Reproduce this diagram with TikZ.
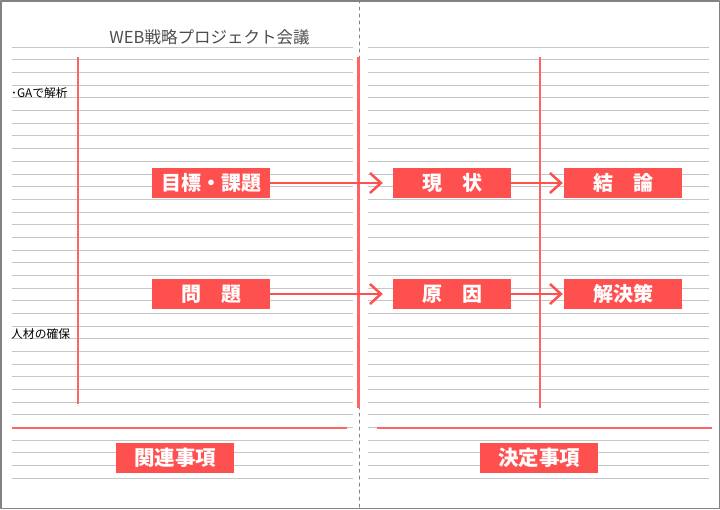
\documentclass[tikz,border=0pt]{standalone}
\usepackage{fontspec}
\newfontfamily\jp{Noto Sans CJK JP}
\usetikzlibrary{arrows.meta}
\definecolor{rouge}{RGB}{255,80,80}
\definecolor{rougetrait}{RGB}{255,100,100}
\definecolor{gristrait}{RGB}{198,198,198}
\definecolor{griscadre}{RGB}{130,130,130}

\begin{document}
\begin{tikzpicture}[line cap=round,line join=round,x=1pt,y=-1pt,
	ligne/.style={color=gristrait,line width=1pt,line cap=butt},
	marge/.style={color=rougetrait,line width=2.2pt,line cap=butt},
	boite/.style={fill=rouge,text=white,minimum width=118pt,minimum height=30pt,inner sep=0pt,font=\jp\bfseries\fontsize{20}{20}\selectfont},
	note/.style={anchor=west,inner sep=0pt,font=\jp\fontsize{11.8}{11.8}\selectfont},
	fleche/.style={color=rouge,line width=2.5pt,-{Straight Barb[length=11pt,width=20pt]}}]
			\useasboundingbox (0,0) rectangle (720,509);
			\draw [color=griscadre,line width=1.5pt] (0.75,0.75) rectangle (719.25,508.25);
			%lignes des pages
			\foreach \k in {0,...,34} {
				\draw [ligne] (12,{47.3+12.67*\k}) -- (353,{47.3+12.67*\k});
				\draw [ligne] (368,{47.3+12.67*\k}) -- (709,{47.3+12.67*\k});
			}
			\draw [color=griscadre,line width=1pt,dash pattern=on 3pt off 4pt] (359.5,0) -- (359.5,509);
			%marges
			\draw [marge] (78,57) -- (78,404);
			\draw [marge] (358.5,57) -- (358.5,408);
			\draw [marge] (540,57) -- (540,408);
			\draw [marge] (12,427.7) -- (347,427.7);
			\draw [marge] (377,427.7) -- (712,427.7);
			%textes
			\node [font=\jp\fontsize{16.5}{16.5}\selectfont,text=black!70] (titre) at (209.5,37) {WEB戦略プロジェクト会議};
			\node [note] (ga) at (11,93.5) {･GAで解析};
			\node [note] (jinzai) at (11,334) {人材の確保};
			%cadres
			\node [boite] (mokuhyo) at (211,183) {目標・課題};
			\node [boite] (mondai) at (211,294) {問　題};
			\node [boite] (genjo) at (452,183) {現　状};
			\node [boite] (genin) at (452,294) {原　因};
			\node [boite] (ketsuron) at (623,183) {結　論};
			\node [boite] (kaiketsu) at (623,294) {解決策};
			\node [boite,font=\jp\bfseries\fontsize{20.5}{20.5}\selectfont] (kanren) at (175,458) {関連事項};
			\node [boite,font=\jp\bfseries\fontsize{20.5}{20.5}\selectfont] (kettei) at (539,458) {決定事項};
			%fleches
			\draw [fleche,shorten >=10pt] (mokuhyo) -- (genjo);
			\draw [fleche,shorten >=10pt] (mondai) -- (genin);
			\draw [fleche,shorten >=1pt] (genjo) -- (ketsuron);
			\draw [fleche,shorten >=1pt] (genin) -- (kaiketsu);
\end{tikzpicture}
\end{document}
